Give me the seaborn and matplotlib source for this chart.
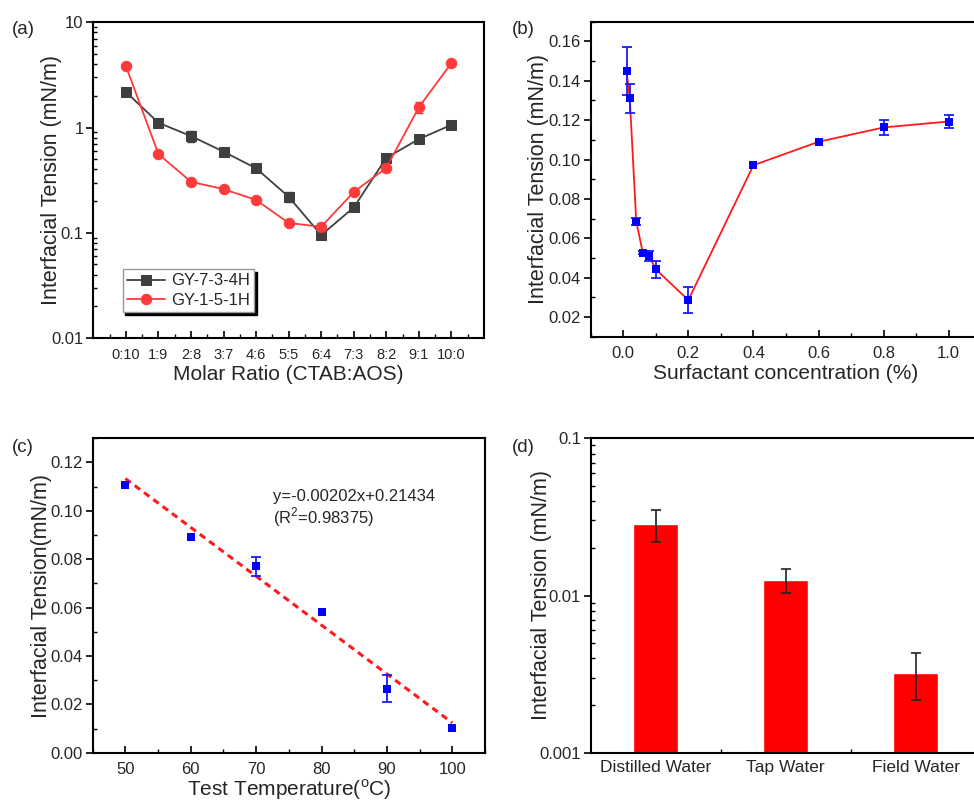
import numpy as np
import pandas as pd
import matplotlib
matplotlib.use("Agg")
import matplotlib.pyplot as plt
import seaborn as sns
from matplotlib.ticker import MultipleLocator, LogLocator, NullFormatter, FixedLocator

sns.set_theme(style="ticks")
plt.rcParams['font.family'] = ['Liberation Sans', 'DejaVu Sans']
plt.rcParams['mathtext.fontset'] = 'custom'
plt.rcParams['mathtext.rm'] = 'Liberation Sans'

# ---------------- data ----------------
# (a)
ratio_labels = ["0:10", "1:9", "2:8", "3:7", "4:6", "5:5", "6:4", "7:3", "8:2", "9:1", "10:0"]
gy734_vals = [2.18, 1.11, 0.83, 0.59, 0.41, 0.22, 0.095, 0.174, 0.515, 0.776, 1.06]
gy734_err = [0.12, 0.08, 0.10, 0.02, 0.015, 0.023, 0.005, 0.008, 0.03, 0.03, 0.09]
gy151_vals = [3.85, 0.56, 0.305, 0.26, 0.205, 0.124, 0.114, 0.244, 0.414, 1.56, 4.1]
gy151_err = [0.15, 0.02, 0.02, 0.012, 0.008, 0.004, 0.01, 0.01, 0.04, 0.2, 0.2]

# (b)
conc = [0.01, 0.02, 0.04, 0.06, 0.08, 0.10, 0.20, 0.40, 0.60, 0.80, 1.00]
ift_conc = [0.145, 0.131, 0.0685, 0.0527, 0.0509, 0.0442, 0.0286, 0.0971, 0.109, 0.1163, 0.1193]
ift_conc_err = [0.012, 0.0075, 0.0018, 0.0008, 0.0025, 0.0045, 0.0068, 0.0, 0.0, 0.0037, 0.0035]

# (c)
temps = [50, 60, 70, 80, 90, 100]
ift_temp = [0.1108, 0.0892, 0.0770, 0.0580, 0.0265, 0.0102]
ift_temp_err = [0.0, 0.0, 0.0039, 0.0, 0.0057, 0.0]
fit_slope = -0.00202
fit_intercept = 0.21434
fit_x = [50, 100]

# (d)
water_types = ["Distilled Water", "Tap Water", "Field Water"]
ift_water = [0.0286, 0.0126, 0.00323]
ift_water_err = [0.0066, 0.0022, 0.00107]

# ---------------- figure ----------------
W, H = 974, 801
fig = plt.figure(figsize=(W / 100, H / 100), dpi=100)

def rect(l, r, t, b):
    return [l / W, (H - b) / H, (r - l) / W, (b - t) / H]

axA = fig.add_axes(rect(93.3, 484, 22.3, 338))
axB = fig.add_axes(rect(590.7, 981.3, 21.7, 336.7))
axC = fig.add_axes(rect(92.7, 485, 438.3, 752.7))
axD = fig.add_axes(rect(590.7, 980.7, 438.3, 752.7))

TICK = 12
LAB = 15
YLAB = 15.5

def style(ax):
    for s in ax.spines.values():
        s.set_linewidth(1.5)
        s.set_color('black')
    ax.tick_params(axis='y', which='major', direction='out', length=5, width=1.2, labelsize=TICK, pad=2, color='black')
    ax.tick_params(axis='y', which='minor', direction='in', length=3, width=1.0, color='black')
    ax.tick_params(axis='x', which='major', direction='in', length=5, width=1.2, labelsize=TICK, pad=7, color='black')
    ax.tick_params(axis='x', which='minor', direction='in', length=3, width=1.0, color='black')
    ax.tick_params(top=False, right=False, which='both')

def errs(ax, xs, ys, es, color, lw, cap):
    sel = [i for i, e in enumerate(es) if e > 0]
    ax.errorbar([xs[i] for i in sel], [ys[i] for i in sel], yerr=[es[i] for i in sel],
                fmt='none', ecolor=color, elinewidth=lw, capsize=cap, capthick=lw)

# ---- (a) ----
black_c = '#3f3f3f'
red_c = '#ff3a3a'
pos = list(range(len(ratio_labels)))
dfa1 = pd.DataFrame({'x': pos, 'y': gy734_vals})
dfa2 = pd.DataFrame({'x': pos, 'y': gy151_vals})
sns.lineplot(data=dfa1, x='x', y='y', ax=axA, color=black_c, marker='s', markersize=7,
             markeredgecolor=black_c, linewidth=1.3, label='GY-7-3-4H')
sns.lineplot(data=dfa2, x='x', y='y', ax=axA, color=red_c, marker='o', markersize=7.5,
             markeredgecolor=red_c, linewidth=1.3, label='GY-1-5-1H')
errs(axA, pos, gy734_vals, gy734_err, black_c, 1, 3)
errs(axA, pos, gy151_vals, gy151_err, red_c, 1, 3)
axA.set_yscale('log')
axA.set_ylim(0.01, 10)
axA.set_xlim(-1, 11)
axA.set_xticks(pos)
axA.set_xticklabels(ratio_labels)
axA.xaxis.set_minor_locator(FixedLocator([p + 0.5 for p in range(-1, 11)]))
axA.set_yticks([0.01, 0.1, 1, 10])
axA.set_yticklabels(['0.01', '0.1', '1', '10'])
axA.yaxis.set_minor_locator(LogLocator(base=10, subs=np.arange(2, 10), numticks=20))
axA.yaxis.set_minor_formatter(NullFormatter())
style(axA)
axA.tick_params(axis='x', labelsize=10.5)
axA.set_xlabel('Molar Ratio (CTAB:AOS)', fontsize=LAB, labelpad=2)
axA.set_ylabel('Interfacial Tension (mN/m)', fontsize=YLAB)
axA.yaxis.set_label_coords(-0.079, 0.5)
leg = axA.legend(loc='lower left', bbox_to_anchor=(0.075, 0.083), fontsize=12, frameon=True,
                 fancybox=False, edgecolor='#9a9a9a', shadow={'color': 'black', 'alpha': 1.0},
                 handlelength=2.3, borderpad=0.25, labelspacing=0.25, handletextpad=0.35,
                 borderaxespad=0)
leg.get_frame().set_linewidth(1.0)

# ---- (b) ----
dfb = pd.DataFrame({'c': conc, 'y': ift_conc})
sns.lineplot(data=dfb, x='c', y='y', ax=axB, color='#ff1a1a', linewidth=1.3)
errs(axB, conc, ift_conc, ift_conc_err, '#1a1aff', 1.3, 3.5)
sns.scatterplot(data=dfb, x='c', y='y', ax=axB, color='#0000ff', marker='s', s=38,
                edgecolor='#0000ff', linewidth=0, zorder=5)
axB.set_xlim(-0.1, 1.1)
axB.set_ylim(0.01, 0.17)
axB.xaxis.set_minor_locator(MultipleLocator(0.1))
axB.yaxis.set_minor_locator(MultipleLocator(0.01))
axB.set_xticks([0.0, 0.2, 0.4, 0.6, 0.8, 1.0])
axB.set_xticklabels(['0.0', '0.2', '0.4', '0.6', '0.8', '1.0'])
axB.set_yticks([0.02, 0.04, 0.06, 0.08, 0.10, 0.12, 0.14, 0.16])
axB.set_yticklabels(['0.02', '0.04', '0.06', '0.08', '0.10', '0.12', '0.14', '0.16'])
style(axB)
axB.set_xlabel('Surfactant concentration (%)', fontsize=LAB, labelpad=2)
axB.set_ylabel('Interfacial Tension (mN/m)', fontsize=YLAB)
axB.yaxis.set_label_coords(-0.106, 0.5)

# ---- (c) ----
fit_y = [fit_slope * x + fit_intercept for x in fit_x]
dff = pd.DataFrame({'x': fit_x, 'y': fit_y})
sns.lineplot(data=dff, x='x', y='y', ax=axC, color='#ff1a1a', linewidth=2.2, linestyle=(0, (2.2, 1.6)))
dfc = pd.DataFrame({'t': temps, 'y': ift_temp})
errs(axC, temps, ift_temp, ift_temp_err, '#1a1aff', 1.3, 3.5)
sns.scatterplot(data=dfc, x='t', y='y', ax=axC, color='#0000ff', marker='s', s=38,
                edgecolor='#0000ff', linewidth=0, zorder=5)
axC.set_xlim(45, 105)
axC.set_ylim(0.0, 0.13)
axC.xaxis.set_minor_locator(MultipleLocator(5))
axC.set_xticks([50, 60, 70, 80, 90, 100])
axC.set_yticks([0.00, 0.02, 0.04, 0.06, 0.08, 0.10, 0.12])
axC.set_yticklabels(['0.00', '0.02', '0.04', '0.06', '0.08', '0.10', '0.12'])
axC.yaxis.set_minor_locator(MultipleLocator(0.01))
style(axC)
axC.set_xlabel('Test Temperature($^\\mathrm{o}$C)', fontsize=LAB, labelpad=0)
axC.set_ylabel('Interfacial Tension(mN/m)', fontsize=YLAB)
axC.yaxis.set_label_coords(-0.103, 0.5)
axC.text(72.6, 0.1059, 'y=-0.00202x+0.21434', fontsize=12, ha='left', va='center')
axC.text(72.6, 0.0972, '(R$^2$=0.98375)', fontsize=12, ha='left', va='center')

# ---- (d) ----
dfd = pd.DataFrame({'w': water_types, 'y': ift_water})
sns.barplot(data=dfd, x='w', y='y', ax=axD, color='#ff0000', width=0.35, saturation=1, errorbar=None)
errs(axD, list(range(len(water_types))), ift_water, ift_water_err, '#222222', 1.2, 3.5)
axD.set_yscale('log')
axD.set_ylim(0.001, 0.1)
axD.set_xlim(-0.5, 2.5)
axD.xaxis.set_minor_locator(FixedLocator([0.5, 1.5]))
axD.set_yticks([0.001, 0.01, 0.1])
axD.set_yticklabels(['0.001', '0.01', '0.1'])
axD.yaxis.set_minor_locator(LogLocator(base=10, subs=np.arange(2, 10), numticks=20))
axD.yaxis.set_minor_formatter(NullFormatter())
style(axD)
axD.tick_params(axis='x', which='major', length=0, labelsize=12.5, pad=5)
axD.set_xlabel('')
axD.set_ylabel('Interfacial Tension (mN/m)', fontsize=YLAB)
axD.yaxis.set_label_coords(-0.10, 0.5)

# panel letters
for lab, (x, y) in zip(['(a)', '(b)', '(c)', '(d)'], [(12, 30), (512, 30), (12, 447), (512, 447)]):
    fig.text(x / W, 1 - y / H, lab, fontsize=13.5, ha='left', va='center')

fig.savefig('out.png', dpi=100)
